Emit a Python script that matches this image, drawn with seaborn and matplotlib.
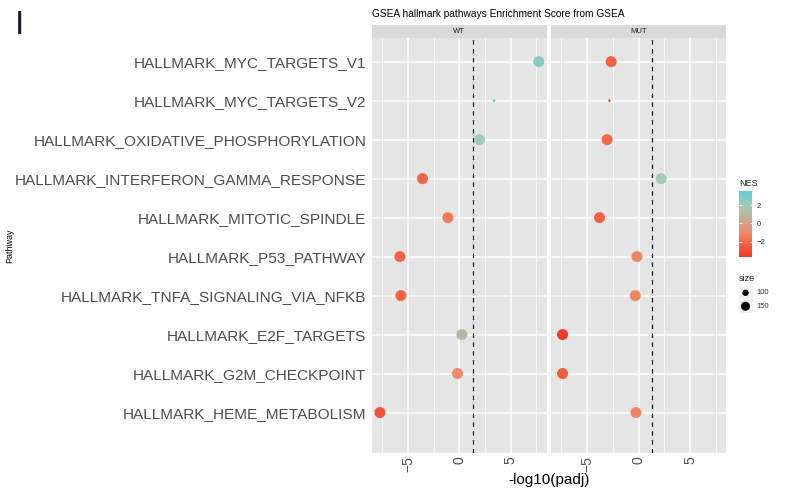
import numpy as np
import pandas as pd
import seaborn as sns
import matplotlib.pyplot as plt
import matplotlib.colors as mcolors
from matplotlib.cm import ScalarMappable
from matplotlib.ticker import MultipleLocator

# ---- data ----
pathways = [
    "HALLMARK_MYC_TARGETS_V1",
    "HALLMARK_MYC_TARGETS_V2",
    "HALLMARK_OXIDATIVE_PHOSPHORYLATION",
    "HALLMARK_INTERFERON_GAMMA_RESPONSE",
    "HALLMARK_MITOTIC_SPINDLE",
    "HALLMARK_P53_PATHWAY",
    "HALLMARK_TNFA_SIGNALING_VIA_NFKB",
    "HALLMARK_E2F_TARGETS",
    "HALLMARK_G2M_CHECKPOINT",
    "HALLMARK_HEME_METABOLISM",
]
groups = ["WT", "MUT"]

# signed -log10(padj)
wt_logp = [7.72, 3.36, 1.94, -3.60, -1.13, -5.80, -5.70, 0.23, -0.19, -7.74]
mut_logp = [-2.67, -2.84, -3.06, 2.20, -3.80, -0.16, -0.32, -7.39, -7.39, -0.26]

wt_nes = [2.6, 3.55, 1.95, -2.2, -1.5, -2.2, -2.2, 1.0, -1.0, -2.8]
mut_nes = [-2.3, -2.5, -2.1, 1.9, -2.3, -1.1, -1.1, -3.6, -2.5, -1.1]

wt_size = [200, 58, 200, 200, 199, 200, 200, 200, 200, 200]
mut_size = [200, 58, 200, 200, 199, 200, 200, 200, 200, 200]

size_breaks = [100, 150]
nes_breaks = [-2, 0, 2]
padj_cut = 1.3  # -log10(0.05)

# colour bar sampled from the reference legend (NES value -> colour)
grad_vals = [-3.6, -2, -1, 0, 1, 2, 3.55]
grad_cols = ["#F03A28", "#F26A48", "#EE8A68", "#D9A088", "#B8B8A0", "#A2CBB8", "#5BCDD8"]

df = pd.concat([
    pd.DataFrame({"Pathway": pathways, "logp": wt_logp, "NES": wt_nes,
                  "size": wt_size, "group": "WT"}),
    pd.DataFrame({"Pathway": pathways, "logp": mut_logp, "NES": mut_nes,
                  "size": mut_size, "group": "MUT"}),
], ignore_index=True)
df["Pathway"] = pd.Categorical(df["Pathway"], categories=pathways, ordered=True)

nes_lo, nes_hi = df["NES"].min(), df["NES"].max()
pos = [(v - grad_vals[0]) / (grad_vals[-1] - grad_vals[0]) for v in grad_vals]
cmap = mcolors.LinearSegmentedColormap.from_list("nes", list(zip(pos, grad_cols)))

sns.set_theme(style="darkgrid", rc={"axes.facecolor": "#E5E5E5", "grid.color": "white"})
plt.rcParams["font.family"] = ["Liberation Sans", "DejaVu Sans"]

W, H = 785, 488
fig = plt.figure(figsize=(W / 100, H / 100), dpi=100)
fig.patch.set_facecolor("white")


def box(l, t, r, b):
    return [l / W, 1 - b / H, (r - l) / W, (b - t) / H]


xr = df["logp"].max() - df["logp"].min()
xlim = (df["logp"].min() - 0.05 * xr, df["logp"].max() + 0.05 * xr)

panels = {"WT": (372, 546.7), "MUT": (551, 726)}
size_kw = dict(sizes=(3.8, 63), size_norm=(58, 200))
for g in groups:
    l, r = panels[g]
    ax = fig.add_axes(box(l, 38.3, r, 452.7))
    sns.scatterplot(
        data=df[df["group"] == g], x="logp", y="Pathway",
        hue="NES", palette=cmap, hue_norm=(nes_lo, nes_hi),
        size="size", **size_kw,
        linewidth=0, legend=False, ax=ax, zorder=3,
    )
    ax.axvline(padj_cut, color="black", ls=(0, (4, 4)), lw=0.8, zorder=2)
    ax.set_xlim(*xlim)
    # the reference leaves about one extra row of space below the last pathway
    ax.set_ylim(len(pathways) + 0.03, -0.6)
    ax.xaxis.set_major_locator(MultipleLocator(5))
    ax.xaxis.set_minor_locator(MultipleLocator(2.5))
    ax.grid(which="major", color="white", lw=1.1)
    ax.grid(which="minor", axis="x", color="white", lw=0.55)
    ax.set_axisbelow(True)
    for s in ax.spines.values():
        s.set_visible(False)
    ax.set_xlabel("")
    ax.set_ylabel("")
    ax.tick_params(axis="x", which="major", length=2.2, width=0.8, color="#333333",
                   labelsize=10, labelcolor="#4D4D4D", labelrotation=90, pad=0.5)
    ax.tick_params(axis="x", which="minor", length=0)
    if g == "WT":
        ax.tick_params(axis="y", length=2.5, width=0.8, color="#333333",
                       labelsize=11.1, labelcolor="#4D4D4D", pad=1.5)
    else:
        ax.tick_params(axis="y", length=0, labelleft=False)

    # facet strip
    st = fig.add_axes(box(l, 25, r, 37.6))
    st.set_facecolor("#D9D9D9")
    st.set_xticks([])
    st.set_yticks([])
    for s in st.spines.values():
        s.set_visible(False)
    st.text(0.5, 0.5, g, ha="center", va="center", fontsize=5.5, color="#1A1A1A",
            transform=st.transAxes)

fig.text(372 / W, 1 - 14 / H, "GSEA hallmark pathways Enrichment Score from GSEA",
         ha="left", va="center", fontsize=7.3, color="black")
fig.text(549 / W, 1 - 480 / H, "-log10(padj)", ha="center", va="center",
         fontsize=11, color="black")
fig.text(10 / W, 1 - 245.5 / H, "Pathway", ha="center", va="center",
         rotation=90, fontsize=6.5, color="black")
fig.text(15 / W, 1 - 25 / H, "I", ha="left", va="center", fontsize=24, color="#1C1C2A")

# colour legend
fig.text(739 / W, 1 - 183 / H, "NES", ha="left", va="center", fontsize=6.5)
cax = fig.add_axes(box(739, 190.7, 752.3, 256.7))
sm = ScalarMappable(norm=mcolors.Normalize(nes_lo, nes_hi), cmap=cmap)
cb = fig.colorbar(sm, cax=cax, ticks=nes_breaks)
cb.outline.set_visible(False)
cax.tick_params(length=0, labelsize=5.5, labelcolor="#333333", pad=3)
cax.hlines(nes_breaks, 0, 0.2, colors="white", lw=0.6)
cax.hlines(nes_breaks, 0.8, 1, colors="white", lw=0.6)

# size legend
fig.text(739 / W, 1 - 278.5 / H, "size", ha="left", va="center", fontsize=6.5)
lax = fig.add_axes(box(738.5, 286, 752.5, 313))
lax.set_facecolor("#F2F2F2")
sns.scatterplot(x=[0.5] * len(size_breaks), y=list(range(len(size_breaks))),
                size=size_breaks, **size_kw, color="black", linewidth=0,
                legend=False, ax=lax)
lax.set_xlim(0, 1)
lax.set_ylim(len(size_breaks) - 0.5, -0.5)
lax.grid(False)
lax.set_xticks([])
lax.set_yticks([])
for s in lax.spines.values():
    s.set_visible(False)
for i, b in enumerate(size_breaks):
    lax.text(1.3, i, str(b), ha="left", va="center", fontsize=5.5, color="#333333")

fig.savefig("out.png", dpi=100)
